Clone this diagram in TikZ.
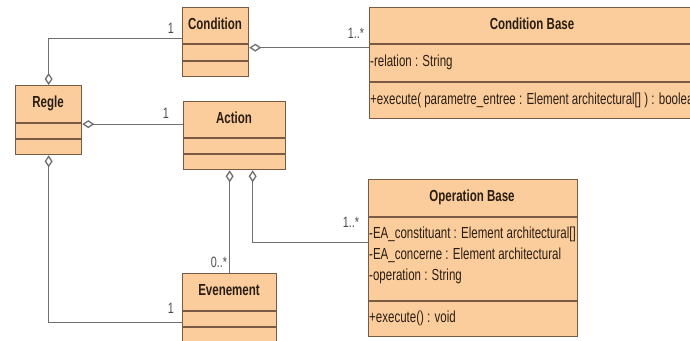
\documentclass[tikz,border=0pt]{standalone}
\usepackage{fontspec}
\setmainfont[FakeStretch=0.72]{Liberation Sans}
\usepackage{xcolor}
\usepackage{tikz}
\usetikzlibrary{positioning, arrows.meta}

\definecolor{clsfill}{HTML}{FCCD9C}
\definecolor{clsline}{HTML}{7A5A42}
\definecolor{assocline}{HTML}{707070}
\definecolor{clstext}{HTML}{2A1E14}

\tikzset{
  cls/.style={draw=clsline, fill=clsfill, line width=1.3pt, anchor=north west, inner sep=0pt},
  divider/.style={draw=clsline, line width=1.3pt},
  clsname/.style={font=\fontsize{16}{18}\selectfont\bfseries, text=clstext, inner sep=0pt},
  member/.style={font=\fontsize{16}{18}\selectfont, text=clstext, anchor=west, inner sep=1pt},
  mult/.style={font=\fontsize{15}{17}\selectfont, text=black!70, inner sep=0pt},
  agg/.style={draw=assocline, line width=1.3pt, {Diamond[length=12pt, width=8pt, fill=white]}-},
}

\begin{document}
\begin{tikzpicture}[x=1pt, y=-1pt]
    \useasboundingbox (0,0) rectangle (690,340);
    \clip (0,0) rectangle (690,340);

    \node[cls, minimum width=66pt,  minimum height=69pt]  (condition) at (182,7)   {};
    \node[cls, minimum width=66pt,  minimum height=69pt]  (regle)     at (15,85)   {};
    \node[cls, minimum width=102pt, minimum height=68pt]  (action)    at (183,101) {};
    \node[cls, minimum width=94pt,  minimum height=70pt]  (evenement) at (182,273) {};
    \node[cls, minimum width=327pt, minimum height=111pt] (condbase)  at (369,7)   {};
    \node[cls, minimum width=209pt, minimum height=157pt] (opbase)    at (368,179) {};

    \draw[divider] (182,44) -- (248,44);
    \draw[divider] (182,61) -- (248,61);
    \draw[divider] (15,123) -- (81,123);
    \draw[divider] (15,139) -- (81,139);
    \draw[divider] (183,138) -- (285,138);
    \draw[divider] (183,154) -- (285,154);
    \draw[divider] (182,311) -- (276,311);
    \draw[divider] (182,327) -- (276,327);
    \draw[divider] (369,44) -- (696,44);
    \draw[divider] (369,82) -- (696,82);
    \draw[divider] (368,217) -- (577,217);
    \draw[divider] (368,301) -- (577,301);

    \node[clsname] (condition-name) at (215,24)  {Condition};
    \node[clsname] (regle-name)     at (48,103)  {Regle};
    \node[clsname] (action-name)    at (234,118) {Action};
    \node[clsname] (evenement-name) at (229,290) {Evenement};
    \node[clsname] (condbase-name)  at (532,24)  {Condition Base};
    \node[clsname] (opbase-name)    at (472,197) {Operation Base};

    \node[member] (condbase-rel)  at (369,62)  {-relation : String};
    \node[member] (condbase-exec) at (369,100) {+execute( parametre\_entree : Element architectural[] ) : boolean};
    \node[member] (opbase-ea1)    at (368,234) {-EA\_constituant : Element architectural[]};
    \node[member] (opbase-ea2)    at (368,255) {-EA\_concerne : Element architectural};
    \node[member] (opbase-op)     at (368,276) {-operation : String};
    \node[member] (opbase-exec)   at (368,318) {+execute() : void};

    \draw[agg] (regle.north) |- ([yshift=3.5pt]condition.west);
    \draw[agg] ([yshift=-5.5pt]condition.east) coordinate (c1) -- (c1 -| condbase.west);
    \draw[agg] ([yshift=-4pt]regle.east) coordinate (c2) -- (c2 -| action.west);
    \draw[agg] (action.south -| evenement.north) -- (evenement.north);
    \draw[agg] ([xshift=18pt]action.south) |- ([yshift=16pt]opbase.west);
    \draw[agg] (regle.south) |- ([yshift=-13.5pt]evenement.west);

    \node[mult] (m-cond)   at (171,28)  {1};
    \node[mult] (m-cbase)  at (356,33)  {1..*};
    \node[mult] (m-action) at (166,113) {1};
    \node[mult] (m-evt-a)  at (219,262) {0..*};
    \node[mult] (m-obase)  at (351,222) {1..*};
    \node[mult] (m-evt-r)  at (171,308) {1};
\end{tikzpicture}
\end{document}
